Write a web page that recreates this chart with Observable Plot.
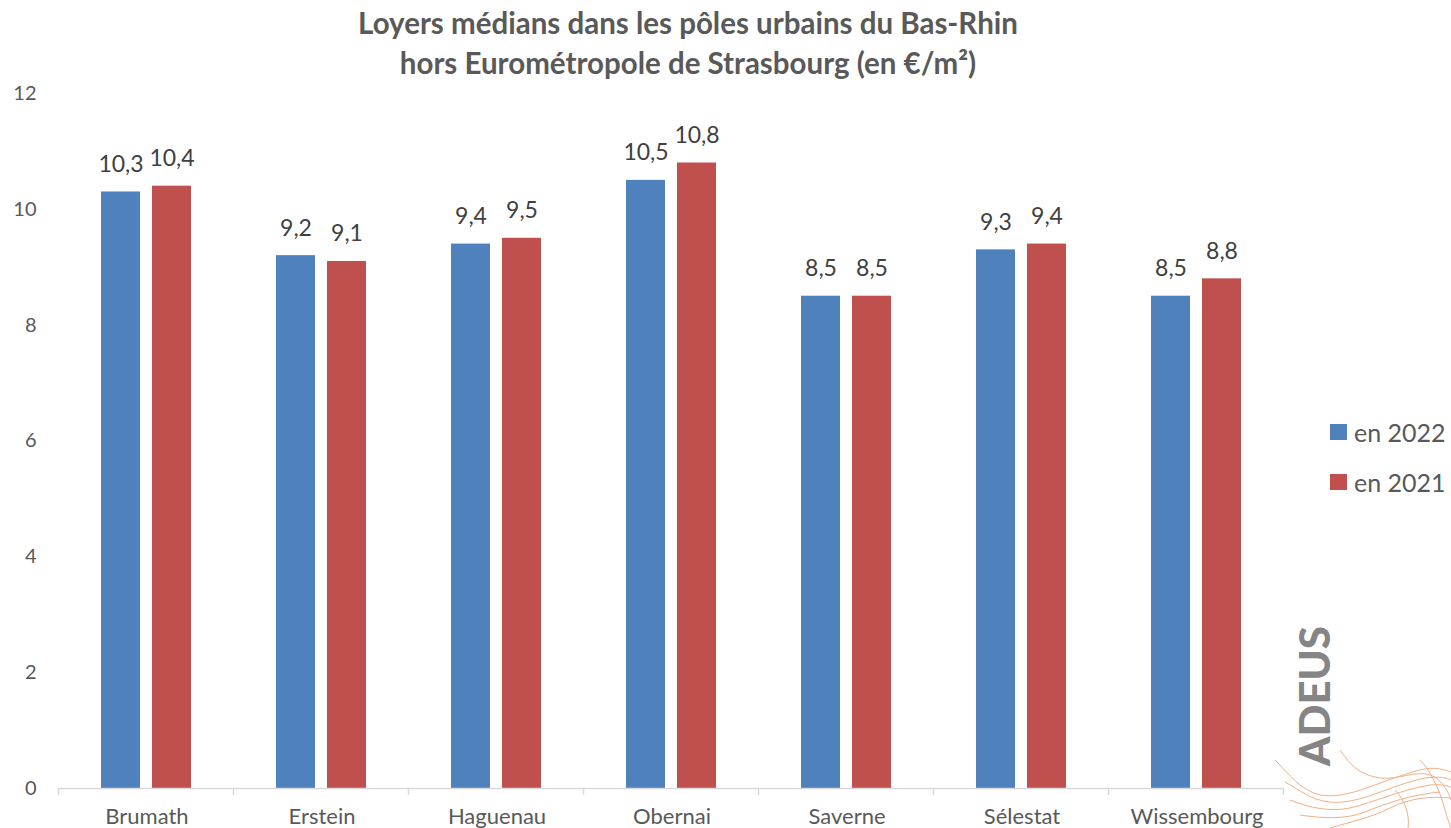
<!DOCTYPE html>
<html>
<head>
<meta charset="utf-8">
<script src="https://cdn.jsdelivr.net/npm/d3@7"></script>
<script src="https://cdn.jsdelivr.net/npm/@observablehq/plot@0.6"></script>
<style>
  body { margin: 0; background: #fff; }
  #wrap { position: relative; width: 1451px; height: 828px; font-family: Lato, "Open Sans", sans-serif; overflow: hidden; }
  #title { position: absolute; top: 3px; left: 238px; width: 900px; text-align: center; font-weight: bold; font-size: 29.5px; line-height: 40px; color: #595959; }
  .leg { position: absolute; left: 1330px; font-size: 25px; color: #595959; display: flex; align-items: center; height: 30px; }
  .leg span.sw { display: inline-block; width: 17px; height: 16px; margin-right: 7px; }
  #logo { position: absolute; left: 1293px; top: 766px; transform-origin: 0 0; transform: rotate(-90deg); font-size: 42px; font-weight: 900; color: #858585; line-height: 1; }
  #deco { position: absolute; left: 0; top: 0; }
  #chart { position: absolute; left: 0; top: 0; }
</style>
</head>
<body>
<div id="wrap">
  <div id="chart"></div>
  <div id="title"></div>
  <div id="legend"></div>
  <svg id="deco" width="1451" height="828"></svg>
  <div id="logo">ADEUS</div>
</div>
<script>
const titleLines = ["Loyers médians dans les pôles urbains du Bas-Rhin", "hors Eurométropole de Strasbourg (en €/m²)"];
const categories = ["Brumath", "Erstein", "Haguenau", "Obernai", "Saverne", "Sélestat", "Wissembourg"];
const values2022 = [10.3, 9.2, 9.4, 10.5, 8.5, 9.3, 8.5];
const values2021 = [10.4, 9.1, 9.5, 10.8, 8.5, 9.4, 8.8];
const seriesNames = ["en 2022", "en 2021"];
const seriesColors = ["#4F81BD", "#C0504D"];
const yTicks = [0, 2, 4, 6, 8, 10, 12];

const data = categories.flatMap((c, i) => [
  {cat: c, s: seriesNames[0], v: values2022[i]},
  {cat: c, s: seriesNames[1], v: values2021[i]}
]);

document.getElementById("title").innerHTML = titleLines.map(t => `<div>${t}</div>`).join("");

const legend = document.getElementById("legend");
seriesNames.forEach((s, i) => {
  const d = document.createElement("div");
  d.className = "leg";
  d.style.top = (417 + i * 50) + "px";
  d.innerHTML = `<span class="sw" style="background:${seriesColors[i]}"></span>${s}`;
  legend.appendChild(d);
});

const fmt = v => v.toFixed(1).replace(".", ",");

const chart = Plot.plot({
  width: 1451,
  height: 828,
  marginTop: 93,
  marginBottom: 40,
  marginLeft: 59,
  marginRight: 167,
  style: {fontFamily: "Lato, 'Open Sans', sans-serif", color: "#595959", background: "transparent", overflow: "visible"},
  fx: {domain: categories, padding: 0, label: null},
  x: {domain: seriesNames, paddingInner: 0.235, paddingOuter: 0.833, axis: null},
  y: {domain: [0, 12], ticks: yTicks, label: null},
  color: {domain: seriesNames, range: seriesColors},
  marks: [
    Plot.axisY({ticks: yTicks, tickSize: 0, tickPadding: 23, label: null, fontSize: 20, tickFormat: d => String(d)}),
    Plot.axisFx({tickSize: 0, tickPadding: 20, label: null, fontSize: 22, anchor: "bottom"}),
    Plot.barY(data, {fx: "cat", x: "s", y: "v", fill: "s"}),
    Plot.text(data, {fx: "cat", x: "s", y: "v", text: d => fmt(d.v), lineAnchor: "bottom", dy: -20, fontSize: 23, fill: "#404040"}),
    Plot.ruleY([0], {stroke: "#d9d9d9", strokeWidth: 1.5}),
    Plot.ruleX(categories, {fx: d => d, x: () => seriesNames[0], y1: 0, y2: -0.12, dx: -62.5, stroke: "#d9d9d9", strokeWidth: 1.5}),
    Plot.ruleX([categories[categories.length - 1]], {fx: d => d, x: () => seriesNames[0], y1: 0, y2: -0.12, dx: 112.5, stroke: "#d9d9d9", strokeWidth: 1.5})
  ]
});
document.getElementById("chart").appendChild(chart);

// decorative contour lines of the logo
const deco = d3.select("#deco");
const paths = [
  "M1275,760 C1290,775 1300,790 1320,795 C1350,800 1380,780 1420,770 C1435,766 1445,770 1451,772",
  "M1285,782 C1300,790 1310,800 1330,802 C1360,805 1390,785 1425,778 C1440,776 1448,778 1451,780",
  "M1290,800 C1310,808 1330,812 1350,808 C1375,802 1400,790 1430,785 C1442,784 1450,786 1451,788",
  "M1300,815 C1320,818 1345,820 1365,812 C1390,802 1410,795 1440,792",
  "M1330,828 C1350,822 1370,818 1390,808 C1410,798 1430,796 1451,798",
  "M1340,750 C1350,765 1360,775 1380,778 C1400,780 1415,770 1430,775 C1440,778 1448,790 1451,800",
  "M1420,760 C1430,770 1440,790 1445,810 C1447,818 1450,825 1451,828",
  "M1395,790 C1405,800 1410,815 1408,828"
];
paths.forEach(p => deco.append("path").attr("d", p).attr("fill", "none").attr("stroke", "#f0b085").attr("stroke-width", 1));
</script>
</body>
</html>
